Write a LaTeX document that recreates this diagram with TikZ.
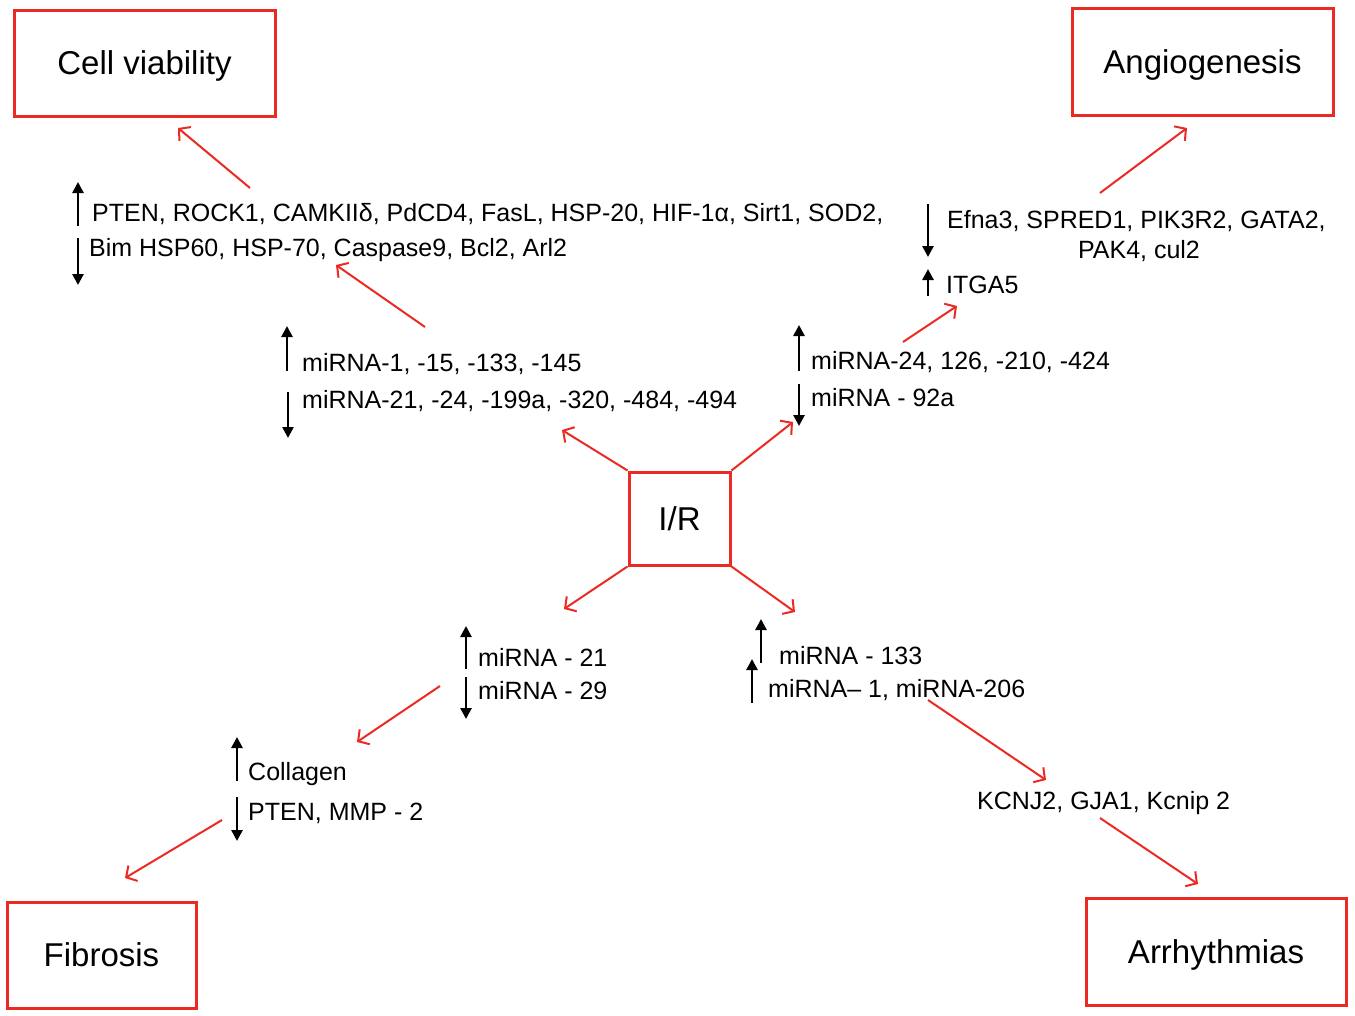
\documentclass[tikz,border=0pt]{standalone}
\usepackage{fontspec}
\setmainfont{Liberation Sans}
\usetikzlibrary{arrows.meta}
\definecolor{rr}{RGB}{236,42,36}
\begin{document}
\begin{tikzpicture}[x=1pt,y=-1pt,
  box/.style={draw=rr,line width=3pt,inner sep=0pt,text height=23.6pt,text depth=0pt,font=\fontsize{33}{36}\selectfont},
  txt/.style={anchor=base west,inner sep=0pt,font=\fontsize{25}{28}\selectfont},
  blk/.style={line width=2.6pt,-{Triangle[length=11pt,width=11pt]}},
  red/.style={draw=rr,line width=2pt,-{Straight Barb[length=8pt,width=18pt,line width=2pt]}}]
\useasboundingbox (0,0) rectangle (1355,1015);
\fill[white] (0,0) rectangle (1355,1015);
% boxes
\node[box,minimum width=261,minimum height=106] (cv) at (144.5,63) {Cell viability};
\node[box,minimum width=261,minimum height=107] (ang) at (1202.5,61.5) {Angiogenesis};
\node[box,minimum width=189,minimum height=106] (fib) at (101.5,955) {Fibrosis};
\node[box,minimum width=260,minimum height=107] (arr) at (1216,951.5) {Arrhythmias};
\node[box,minimum width=101,minimum height=93] (ir) at (679.5,518.5) {I/R};
% texts
\node[txt] (t1) at (92,221) {PTEN, ROCK1, CAMKIIδ, PdCD4, FasL, HSP-20, HIF-1α, Sirt1, SOD2,};
\node[txt] (t2) at (89,256) {Bim HSP60, HSP-70, Caspase9, Bcl2, Arl2};
\node[txt] (m1) at (302,371) {miRNA-1, -15, -133, -145};
\node[txt] (m2) at (302,408) {miRNA-21, -24, -199a, -320, -484, -494};
\node[txt] (r1) at (811,369) {miRNA-24, 126, -210, -424};
\node[txt] (r2) at (811,406) {miRNA - 92a};
\node[txt] (e1) at (947,228) {Efna3, SPRED1, PIK3R2, GATA2,};
\node[txt,anchor=base] (e2) at (1139,258) {PAK4, cul2};
\node[txt] (i1) at (946,293) {ITGA5};
\node[txt] (b1) at (478,666) {miRNA - 21};
\node[txt] (b2) at (478,699) {miRNA - 29};
\node[txt] (c1) at (248,780) {Collagen};
\node[txt] (c2) at (248,820) {PTEN, MMP - 2};
\node[txt] (d1) at (779,664) {miRNA - 133};
\node[txt] (d2) at (768,697) {miRNA– 1, miRNA-206};
\node[txt] (k1) at (977,809) {KCNJ2, GJA1, Kcnip 2};
% black up/down arrows
\draw[blk] (78,226) -- (78,182);
\draw[blk] (78,238) -- (78,285);
\draw[blk] (287,371) -- (287,326);
\draw[blk] (288,392) -- (288,438);
\draw[blk] (799,371) -- (799,325);
\draw[blk] (799,384) -- (799,426);
\draw[blk] (928,204) -- (928,257);
\draw[blk] (928,296) -- (928,269);
\draw[blk] (466,669) -- (466,626);
\draw[blk] (466,677) -- (466,719);
\draw[blk] (237,781) -- (237,737);
\draw[blk] (237,797) -- (237,841);
\draw[blk] (761,663) -- (761,619);
\draw[blk] (752,703) -- (752,659);
% red connector coordinates
\coordinate (a1s) at (250,188); \coordinate (a1e) at (178,128);
\coordinate (a2s) at (425,327); \coordinate (a2e) at (336,265);
\coordinate (a3e) at (562,430);
\coordinate (a4e) at (793,422);
\coordinate (a5s) at (903,342); \coordinate (a5e) at (957,306);
\coordinate (a6s) at (1100,193); \coordinate (a6e) at (1187,128);
\coordinate (a7e) at (564,609);
\coordinate (a8e) at (795,612);
\coordinate (a9s) at (440,686); \coordinate (a9e) at (357,742);
\coordinate (a10s) at (222,820); \coordinate (a10e) at (125,878);
\coordinate (a11s) at (928,700); \coordinate (a11e) at (1046,780);
\coordinate (a12s) at (1100,818); \coordinate (a12e) at (1198,884);
\draw[red] (a1s) -- (a1e);
\draw[red] (a2s) -- (a2e);
\draw[red] (ir.north west) -- (a3e);
\draw[red] (ir.north east) -- (a4e);
\draw[red] (a5s) -- (a5e);
\draw[red] (a6s) -- (a6e);
\draw[red] (ir.south west) -- (a7e);
\draw[red] (ir.south east) -- (a8e);
\draw[red] (a9s) -- (a9e);
\draw[red] (a10s) -- (a10e);
\draw[red] (a11s) -- (a11e);
\draw[red] (a12s) -- (a12e);
\end{tikzpicture}
\end{document}
